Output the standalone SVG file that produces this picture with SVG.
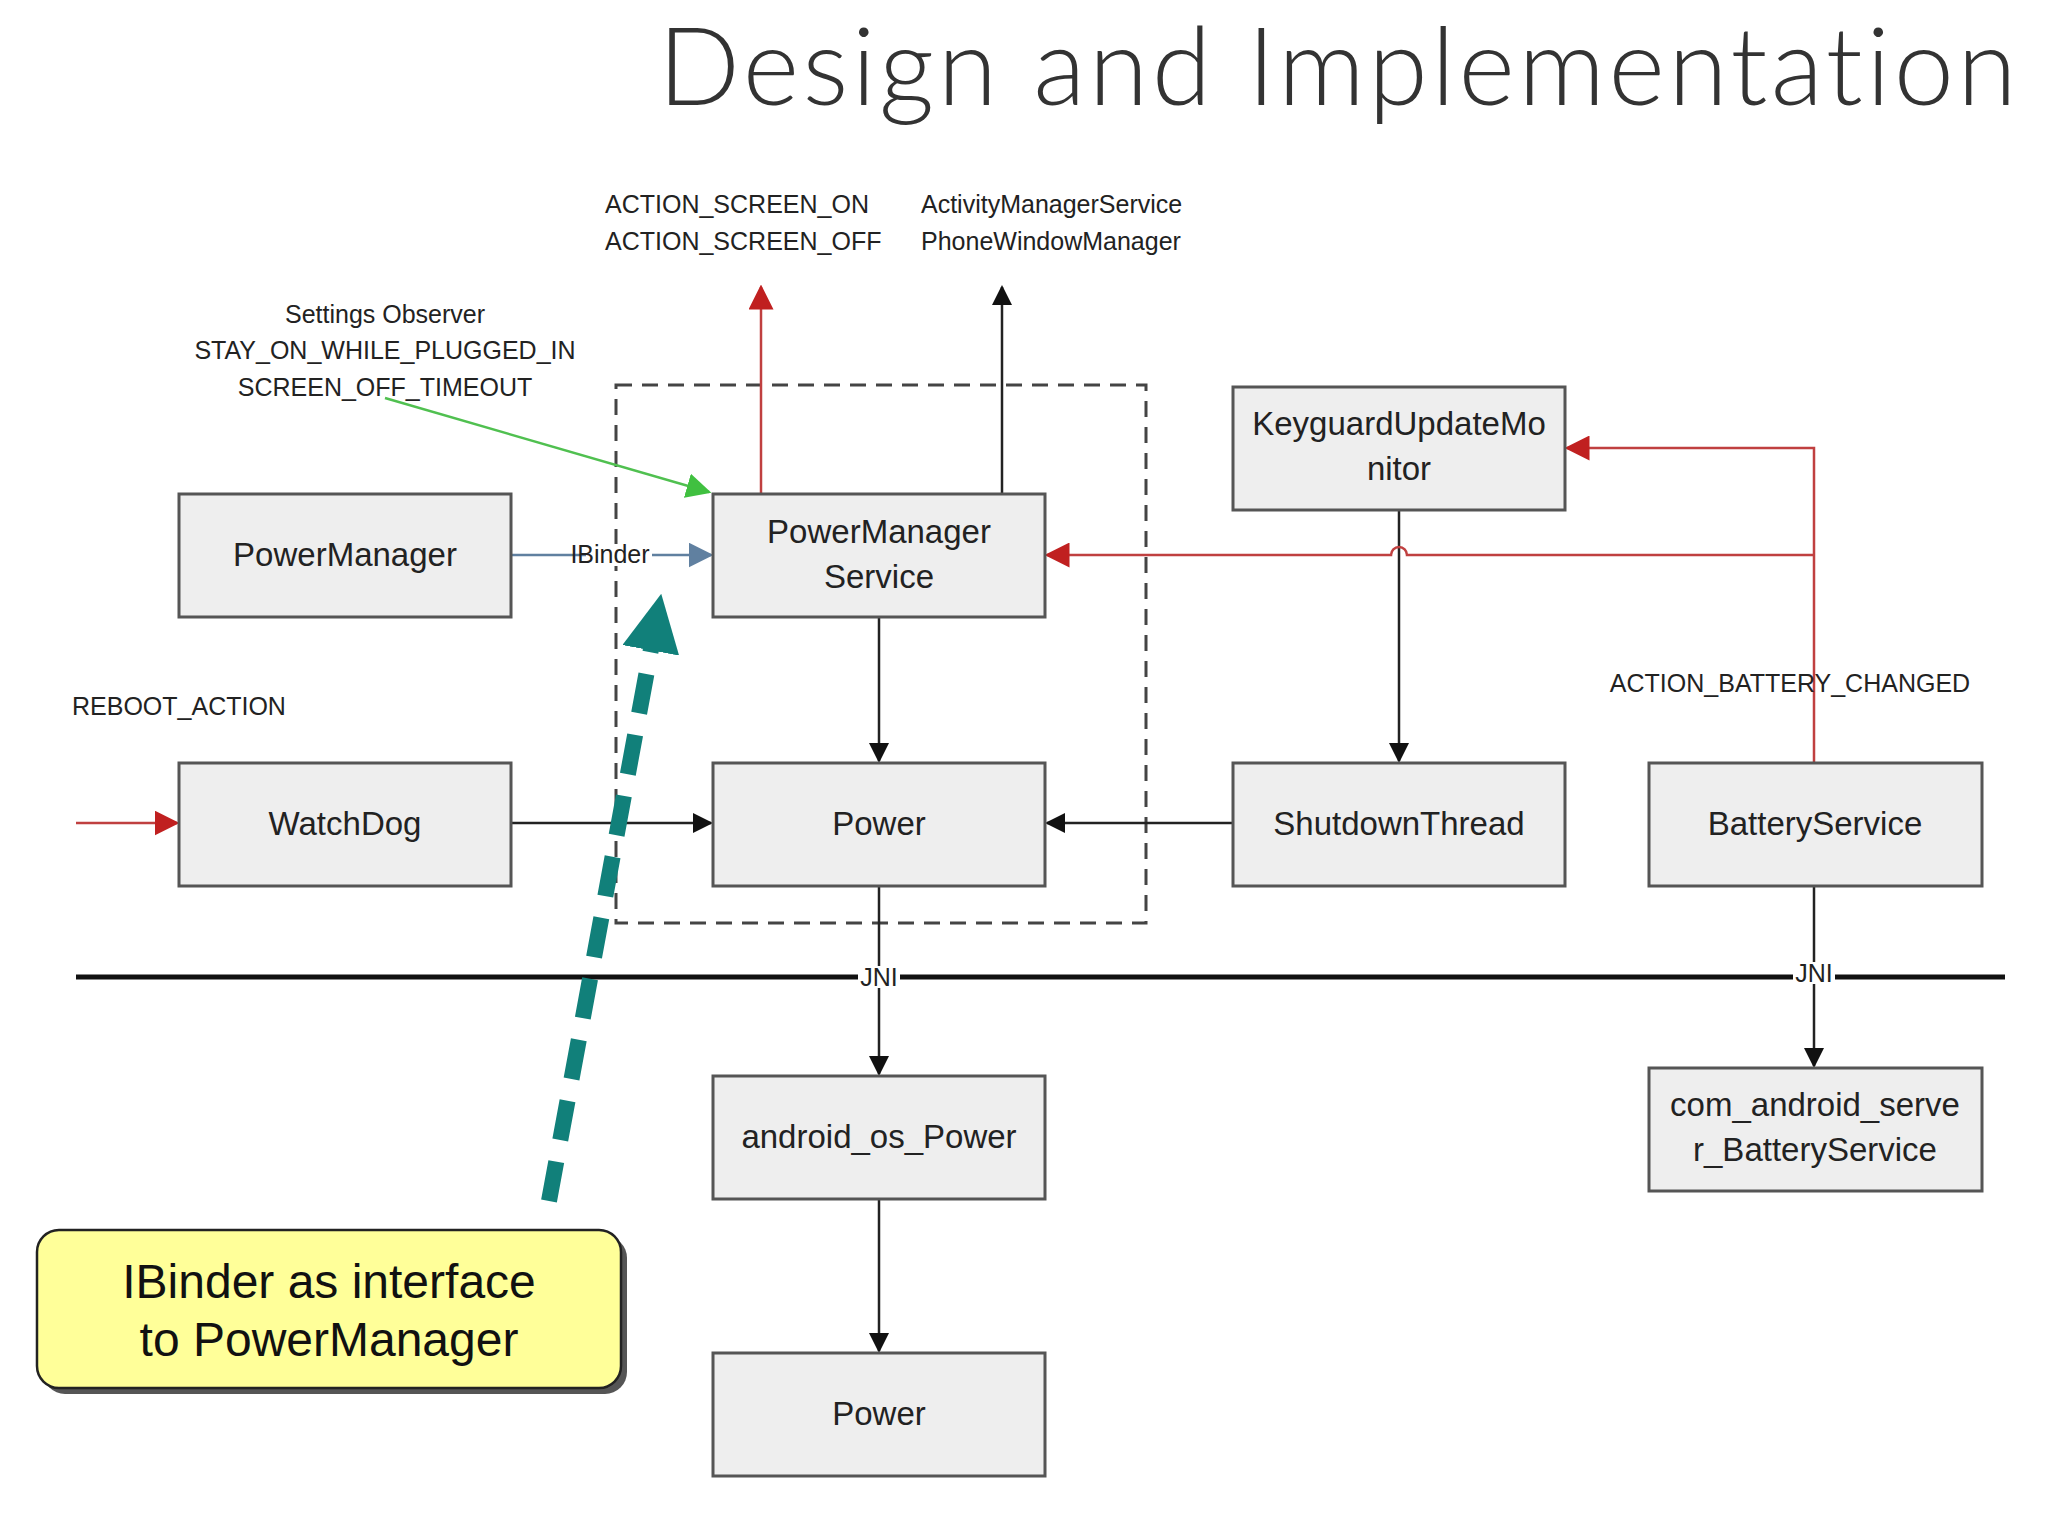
<svg xmlns="http://www.w3.org/2000/svg" width="2048" height="1535" viewBox="0 0 2048 1535">
<style>
.b rect{fill:#eeeeee;stroke:#555;stroke-width:3}
.t{font-family:"Liberation Sans",Arial,sans-serif;font-size:33px;fill:#222;text-anchor:middle}
.s{font-family:"Liberation Sans",Arial,sans-serif;font-size:25px;fill:#222}
.k{stroke:#222;stroke-width:2.5;fill:none}
.r{stroke:#c04040;stroke-width:2.5;fill:none}
</style>
<defs>
<marker id="ak" markerWidth="20" markerHeight="20" refX="9" refY="5" orient="auto" markerUnits="userSpaceOnUse" viewBox="0 0 10 10"><path d="M0,0L10,5L0,10z" fill="#111"/></marker>
<marker id="ar" markerWidth="10" markerHeight="10" refX="9" refY="5" orient="auto" viewBox="0 0 10 10"><path d="M0,0L10,5L0,10z" fill="#c02020"/></marker>
<marker id="ag" markerWidth="10" markerHeight="10" refX="9" refY="5" orient="auto" viewBox="0 0 10 10"><path d="M0,0L10,5L0,10z" fill="#40c040"/></marker>
<marker id="ab" markerWidth="10" markerHeight="10" refX="9" refY="5" orient="auto" viewBox="0 0 10 10"><path d="M0,0L10,5L0,10z" fill="#6080a0"/></marker>
<marker id="at" markerWidth="3.6" markerHeight="3.6" refX="3" refY="3" orient="auto" viewBox="0 0 6 6"><path d="M0,0L6,3L0,6z" fill="#11807a"/></marker>
</defs>
<rect width="2048" height="1535" fill="#fff"/>
<text x="658" y="105" font-family="Lato,'Liberation Sans',sans-serif" font-weight="300" font-size="108" letter-spacing="3.4" fill="#333">Design and Implementation</text>
<rect x="616" y="385" width="530" height="538" fill="none" stroke="#444" stroke-width="3" stroke-dasharray="16,10"/>
<line x1="76" y1="977" x2="2005" y2="977" stroke="#111" stroke-width="5"/>
<g id="connectors">
<line class="r" x1="761" y1="494" x2="761" y2="287" marker-end="url(#ar)"/>
<line class="k" x1="1002" y1="494" x2="1002" y2="287" marker-end="url(#ak)"/>
<line x1="385" y1="398" x2="709" y2="492" stroke="#50c050" stroke-width="2.5" marker-end="url(#ag)"/>
<line x1="511" y1="555" x2="711" y2="555" stroke="#6080a0" stroke-width="2.5" marker-end="url(#ab)"/>
<line class="k" x1="879" y1="617" x2="879" y2="761" marker-end="url(#ak)"/>
<line class="k" x1="1399" y1="510" x2="1399" y2="761" marker-end="url(#ak)"/>
<path class="r" d="M1814,763V448H1567" marker-end="url(#ar)"/>
<path class="r" d="M1814,555H1407a8,8 0 0 0 -16,0H1047" marker-end="url(#ar)"/>
<line class="r" x1="76" y1="823" x2="177" y2="823" marker-end="url(#ar)"/>
<line class="k" x1="511" y1="823" x2="711" y2="823" marker-end="url(#ak)"/>
<line class="k" x1="1233" y1="823" x2="1047" y2="823" marker-end="url(#ak)"/>
<line class="k" x1="879" y1="886" x2="879" y2="1074" marker-end="url(#ak)"/>
<line class="k" x1="879" y1="1199" x2="879" y2="1351" marker-end="url(#ak)"/>
<line class="k" x1="1814" y1="886" x2="1814" y2="1066" marker-end="url(#ak)"/>
<rect x="586" y="544" width="66" height="22" fill="#fff"/>
<text class="s" x="610" y="563" text-anchor="middle" font-size="24">IBinder</text>
<rect x="858" y="966" width="42" height="22" fill="#fff"/>
<text class="s" x="879" y="986" text-anchor="middle" font-size="24">JNI</text>
<rect x="1793" y="962" width="42" height="22" fill="#fff"/>
<text class="s" x="1814" y="982" text-anchor="middle" font-size="24">JNI</text>
<line x1="549" y1="1201" x2="656" y2="622" stroke="#11807a" stroke-width="16" stroke-dasharray="40,22" marker-end="url(#at)"/>
</g>
<text class="s" x="605" y="213">ACTION_SCREEN_ON</text>
<text class="s" x="605" y="250">ACTION_SCREEN_OFF</text>
<text class="s" x="921" y="213">ActivityManagerService</text>
<text class="s" x="921" y="250">PhoneWindowManager</text>
<text class="s" x="385" y="323" text-anchor="middle">Settings Observer</text>
<text class="s" x="385" y="359" text-anchor="middle">STAY_ON_WHILE_PLUGGED_IN</text>
<text class="s" x="385" y="396" text-anchor="middle">SCREEN_OFF_TIMEOUT</text>
<text class="s" x="72" y="715">REBOOT_ACTION</text>
<text class="s" x="1790" y="692" text-anchor="middle">ACTION_BATTERY_CHANGED</text>
<g id="pm" class="b"><rect x="179" y="494" width="332" height="123"/><text class="t" x="345" y="566">PowerManager</text></g>
<g id="pms" class="b"><rect x="713" y="494" width="332" height="123"/><text class="t" x="879" y="543">PowerManager</text><text class="t" x="879" y="588">Service</text></g>
<g id="kum" class="b"><rect x="1233" y="387" width="332" height="123"/><text class="t" x="1399" y="435">KeyguardUpdateMo</text><text class="t" x="1399" y="480">nitor</text></g>
<g id="wd" class="b"><rect x="179" y="763" width="332" height="123"/><text class="t" x="345" y="835">WatchDog</text></g>
<g id="power" class="b"><rect x="713" y="763" width="332" height="123"/><text class="t" x="879" y="835">Power</text></g>
<g id="st" class="b"><rect x="1233" y="763" width="332" height="123"/><text class="t" x="1399" y="835">ShutdownThread</text></g>
<g id="bs" class="b"><rect x="1649" y="763" width="333" height="123"/><text class="t" x="1815" y="835">BatteryService</text></g>
<g id="aop" class="b"><rect x="713" y="1076" width="332" height="123"/><text class="t" x="879" y="1148">android_os_Power</text></g>
<g id="power2" class="b"><rect x="713" y="1353" width="332" height="123"/><text class="t" x="879" y="1425">Power</text></g>
<g id="cabs" class="b"><rect x="1649" y="1068" width="333" height="123"/><text class="t" x="1815" y="1116">com_android_serve</text><text class="t" x="1815" y="1161">r_BatteryService</text></g>
<g id="callout"><rect x="43" y="1236" width="584" height="158" rx="22" fill="#555"/><rect x="37" y="1230" width="584" height="158" rx="22" fill="#ffff99" stroke="#222" stroke-width="2.5"/>
<text x="329" y="1298" font-family="Liberation Sans,Arial,sans-serif" font-size="48" text-anchor="middle" fill="#111">IBinder as interface</text>
<text x="329" y="1356" font-family="Liberation Sans,Arial,sans-serif" font-size="48" text-anchor="middle" fill="#111">to PowerManager</text></g>
</svg>
